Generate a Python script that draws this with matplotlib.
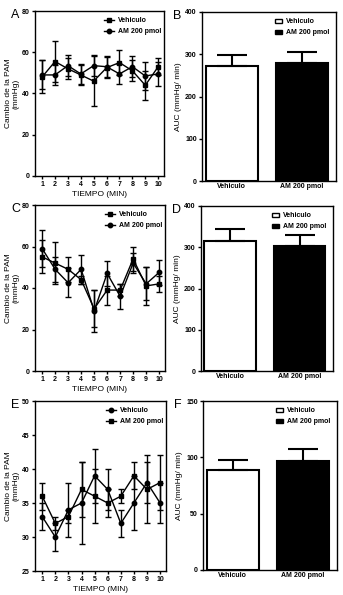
import matplotlib
matplotlib.use("Agg")
import matplotlib.pyplot as plt
from matplotlib.patches import Patch
from matplotlib.lines import Line2D

plt.rcParams["font.family"] = ["Liberation Sans Narrow", "Liberation Sans", "DejaVu Sans"]
plt.rcParams["font.weight"] = "bold"

minutes = [1, 2, 3, 4, 5, 6, 7, 8, 9, 10]
groups = ["Vehiculo", "AM 200 pmol"]

# panel A (PAM change, mmHg)
a_veh = [48, 55.5, 52, 49, 46, 52.5, 55, 51, 44, 53]
a_veh_err = [8, 10, 5, 5, 12, 5, 6, 5, 7, 4]
a_am = [49, 49, 53.5, 49.5, 53.5, 53, 49.5, 53, 48.5, 49.5]
a_am_err = [7, 5, 5, 5, 5, 5, 5, 5, 7, 6]

# panel C
c_veh = [55, 52, 49, 44, 30, 39, 39, 54, 41, 42]
c_veh_err = [8, 10, 6, 2, 9, 7, 3, 6, 9, 4]
c_am = [59, 49, 42.5, 49, 29, 47, 36, 52, 42, 47.5]
c_am_err = [9, 6, 7, 7, 10, 6, 6, 5, 8, 6]

# panel E
e_veh = [33, 30, 34, 35, 39, 37, 32, 35, 38, 35]
e_veh_err = [2, 2, 4, 6, 4, 3, 2, 4, 3, 3]
e_am = [36, 32, 33, 37, 36, 35, 36, 39, 37, 38]
e_am_err = [2, 1, 1, 4, 4, 2, 1, 2, 5, 4]

# AUC bars (B, D, F)
b_auc = [272, 280]
b_err = [26, 26]
d_auc = [315, 302]
d_err = [30, 28]
f_auc = [89, 97]
f_err = [9, 10]

W, H = 343, 595
fig = plt.figure(figsize=(W / 100, H / 100), dpi=100)


def box(l, t, r, b):
    return [l / W, (H - b) / H, (r - l) / W, (b - t) / H]


def style(ax):
    for s in ax.spines.values():
        s.set_linewidth(1.0)
    ax.tick_params(labelsize=5, width=1.0, length=2.5, pad=1.2)


def line_panel(rect, veh, veh_err, am, am_err, ylim, yticks, veh_marker, am_marker, letter):
    ax = fig.add_axes(box(*rect))
    ax.errorbar(minutes, veh, yerr=veh_err, color="black", lw=1.0, marker=veh_marker,
                ms=3.2, capsize=2, elinewidth=1.0, capthick=1.0)
    ax.errorbar(minutes, am, yerr=am_err, color="black", lw=1.0, marker=am_marker,
                ms=3.2, capsize=2, elinewidth=1.0, capthick=1.0)
    ax.set_xlim(0.45, 10.45)
    ax.set_ylim(*ylim)
    ax.set_xticks(minutes)
    ax.set_yticks(yticks)
    ax.set_xlabel("TIEMPO (MIN)", fontsize=6, labelpad=2)
    ax.set_ylabel("Cambio de la PAM\n(mmHg)", fontsize=6, labelpad=2, linespacing=1.0)
    handles = [Line2D([], [], color="black", lw=1.0, marker=veh_marker, ms=3.2),
               Line2D([], [], color="black", lw=1.0, marker=am_marker, ms=3.2)]
    ax.legend(handles, groups, loc="upper right", frameon=False, fontsize=5,
              handlelength=1.5, handletextpad=0.6, labelspacing=0.6,
              bbox_to_anchor=(1.03, 1.0))
    style(ax)
    fig.text((rect[0] - 24) / W, 1 - (rect[1] + 4) / H, letter, fontsize=9,
             fontweight="normal", va="center", ha="left")
    return ax


def bar_panel(rect, vals, errs, ylim, yticks, letter):
    ax = fig.add_axes(box(*rect))
    x = [0, 1]
    ax.bar(x, vals, width=0.74, color=["white", "black"], edgecolor="black", lw=1.5)
    ax.errorbar(x, vals, yerr=[[0, 0], errs], fmt="none", ecolor="black",
                elinewidth=1.5, capsize=11, capthick=1.5)
    ax.set_xlim(-0.42, 1.48)
    ax.set_ylim(*ylim)
    ax.set_yticks(yticks)
    ax.set_xticks(x)
    ax.set_xticklabels(groups, fontsize=5)
    ax.set_ylabel("AUC (mmHg/ min)", fontsize=6, labelpad=2)
    handles = [Patch(facecolor="white", edgecolor="black", lw=1.0),
               Patch(facecolor="black", edgecolor="black", lw=1.0)]
    ax.legend(handles, groups, loc="upper right", frameon=False, fontsize=5,
              handlelength=1.1, handleheight=0.6, handletextpad=0.6, labelspacing=0.6,
              bbox_to_anchor=(1.0, 1.0))
    style(ax)
    ax.tick_params(axis="x", length=0)
    fig.text((rect[0] - 29) / W, 1 - (rect[1] + 4) / H, letter, fontsize=9,
             fontweight="normal", va="center", ha="left")
    return ax


line_panel((35, 11, 164, 176), a_veh, a_veh_err, a_am, a_am_err, (0, 80),
           [0, 20, 40, 60, 80], "s", "o", "A")
bar_panel((202, 12, 336, 181), b_auc, b_err, (0, 400), [0, 100, 200, 300, 400], "B")
line_panel((35, 205, 165, 371), c_veh, c_veh_err, c_am, c_am_err, (0, 80),
           [0, 20, 40, 60, 80], "s", "o", "C")
bar_panel((201, 206, 333, 371), d_auc, d_err, (0, 400), [0, 100, 200, 300, 400], "D")
line_panel((35, 401, 166, 571), e_veh, e_veh_err, e_am, e_am_err, (25, 50),
           [25, 30, 35, 40, 45, 50], "o", "s", "E")
bar_panel((203, 401, 337, 570), f_auc, f_err, (0, 150), [0, 50, 100, 150], "F")

fig.savefig("out.png", dpi=100)
